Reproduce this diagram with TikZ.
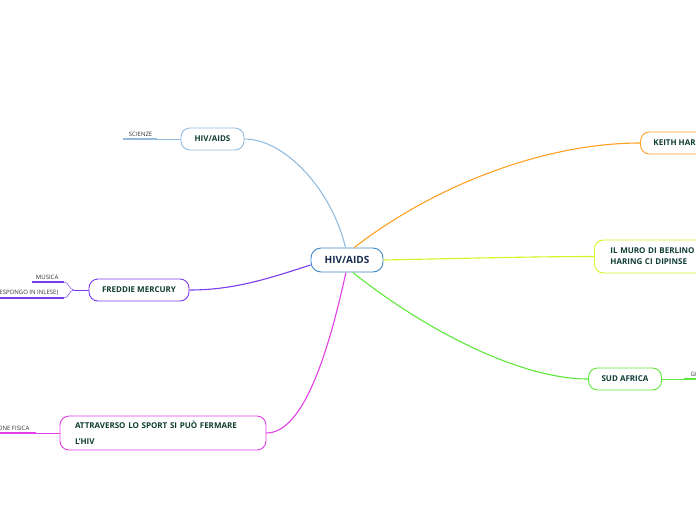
\documentclass[tikz,border=0pt]{standalone}
\usepackage{fontspec}
\setmainfont{Open Sans}
\usepackage{tikz}
\usetikzlibrary{positioning}
\definecolor{hubblue}{HTML}{3C87C8}
\definecolor{skyblue}{HTML}{92BCDF}
\definecolor{mmorange}{HTML}{FFA022}
\definecolor{mmlime}{HTML}{D6F422}
\definecolor{mmgreen}{HTML}{5EE83A}
\definecolor{mmpink}{HTML}{E23FE8}
\definecolor{mmpurple}{HTML}{7B3CF0}
\definecolor{topictext}{HTML}{0F3D33}
\definecolor{hubtext}{HTML}{182B4F}
\definecolor{subtext}{HTML}{333333}

\tikzset{
  topic/.style={draw=#1, fill=white, line width=0.9pt, rounded corners=9pt,
    font=\bfseries\fontsize{8}{11}\selectfont, text=topictext,
    minimum height=22pt, inner xsep=13pt},
  branch/.style={draw=#1, line width=1.1pt},
  twig/.style={draw=#1, line width=0.5pt},
  underline/.style={draw=#1, line width=1.6pt},
  subtopic/.style={font=\fontsize{6}{7}\selectfont, text=subtext, inner sep=0.5pt}
}

\begin{document}
\begin{tikzpicture}[x=1pt, y=-1pt]
  \clip (0,0) rectangle (696,520);

  % central topic
  \node[topic=hubblue, font=\bfseries\fontsize{10}{11}\selectfont, text=hubtext,
        minimum width=72pt, minimum height=24pt, rounded corners=10pt] (hub) at (347,260) {HIV/AIDS};

  % main topics
  \node[topic=skyblue, minimum width=63pt] (science) at (212.5,139) {HIV/AIDS};
  \node[topic=mmpurple, minimum width=100pt] (freddie) at (139,290) {FREDDIE MERCURY};
  \node[topic=mmpink, text width=176pt, align=left, inner xsep=15pt,
        minimum height=34pt, font=\bfseries\fontsize{8}{16}\selectfont] (sport) at (163,433)
        {ATTRAVERSO LO SPORT SI PUÒ FERMARE\\L'HIV};
  \node[topic=mmorange, anchor=west, minimum width=80pt] (keith) at (640,143) {KEITH HARING};
  \node[topic=mmlime, anchor=west, text width=120pt, align=left, inner xsep=16pt,
        minimum height=33pt, font=\bfseries\fontsize{8}{11}\selectfont] (wall) at (594,256.5)
        {IL MURO DI BERLINO\\HARING CI DIPINSE};
  \node[topic=mmgreen, minimum width=72pt] (africa) at (625,379) {SUD AFRICA};

  % branches from the centre
  \draw[branch=skyblue] (hub.97) .. controls (332,190) and (285,139) .. (science.east);
  \draw[branch=mmpurple] (hub.west) ++(0,5) .. controls (270,278) and (235,290) .. (freddie.east);
  \draw[branch=mmpink] (hub.265) .. controls (330,345) and (305,433) .. (sport.east);
  \draw[branch=mmorange] (hub.60) .. controls (435,185) and (545,143) .. (keith.west);
  \draw[branch=mmlime] (hub.east) .. controls (480,258) and (540,256.5) .. (wall.west);
  \draw[branch=mmgreen] (hub.295) .. controls (425,330) and (520,379) .. (africa.west);

  % subtopics
  \coordinate (sciR) at (157,139);
  \coordinate (sciL) at (123,139);
  \node[subtopic, anchor=south east] (sci) at (153,137) {SCIENZE};
  \draw[underline=skyblue] (sciL) -- (sciR);
  \draw[twig=skyblue] (sciR) -- (science.west);

  \coordinate (fork) at (74,290);
  \coordinate (musR) at (64,282);
  \coordinate (musL) at (32,282);
  \coordinate (engR) at (64,298);
  \coordinate (engL) at (-10,298);
  \node[subtopic, anchor=south east] (mus) at (59,280) {MUSICA};
  \node[subtopic, anchor=south east] (eng) at (59,296) {(ESPONGO IN INLESE)};
  \draw[underline=mmpurple] (musL) -- (musR);
  \draw[underline=mmpurple] (engL) -- (engR);
  \draw[twig=mmpurple] (freddie.west) -- (fork);
  \draw[twig=mmpurple] (fork) .. controls (69,290) and (69,282) .. (musR);
  \draw[twig=mmpurple] (fork) .. controls (69,290) and (69,298) .. (engR);

  \coordinate (gymR) at (36,433);
  \coordinate (gymL) at (-10,433);
  \node[subtopic, anchor=south east] (gym) at (30,431) {EDUCAZIONE FISICA};
  \draw[underline=mmpink] (gymL) -- (gymR);
  \draw[twig=mmpink] (gymR) -- (sport.west);

  \coordinate (geoL) at (684,379);
  \coordinate (geoR) at (740,379);
  \node[subtopic, anchor=south west] (geo) at (690,377) {GEOGRAFIA};
  \draw[underline=mmgreen] (geoL) -- (geoR);
  \draw[twig=mmgreen] (africa.east) -- (geoL);
\end{tikzpicture}
\end{document}
